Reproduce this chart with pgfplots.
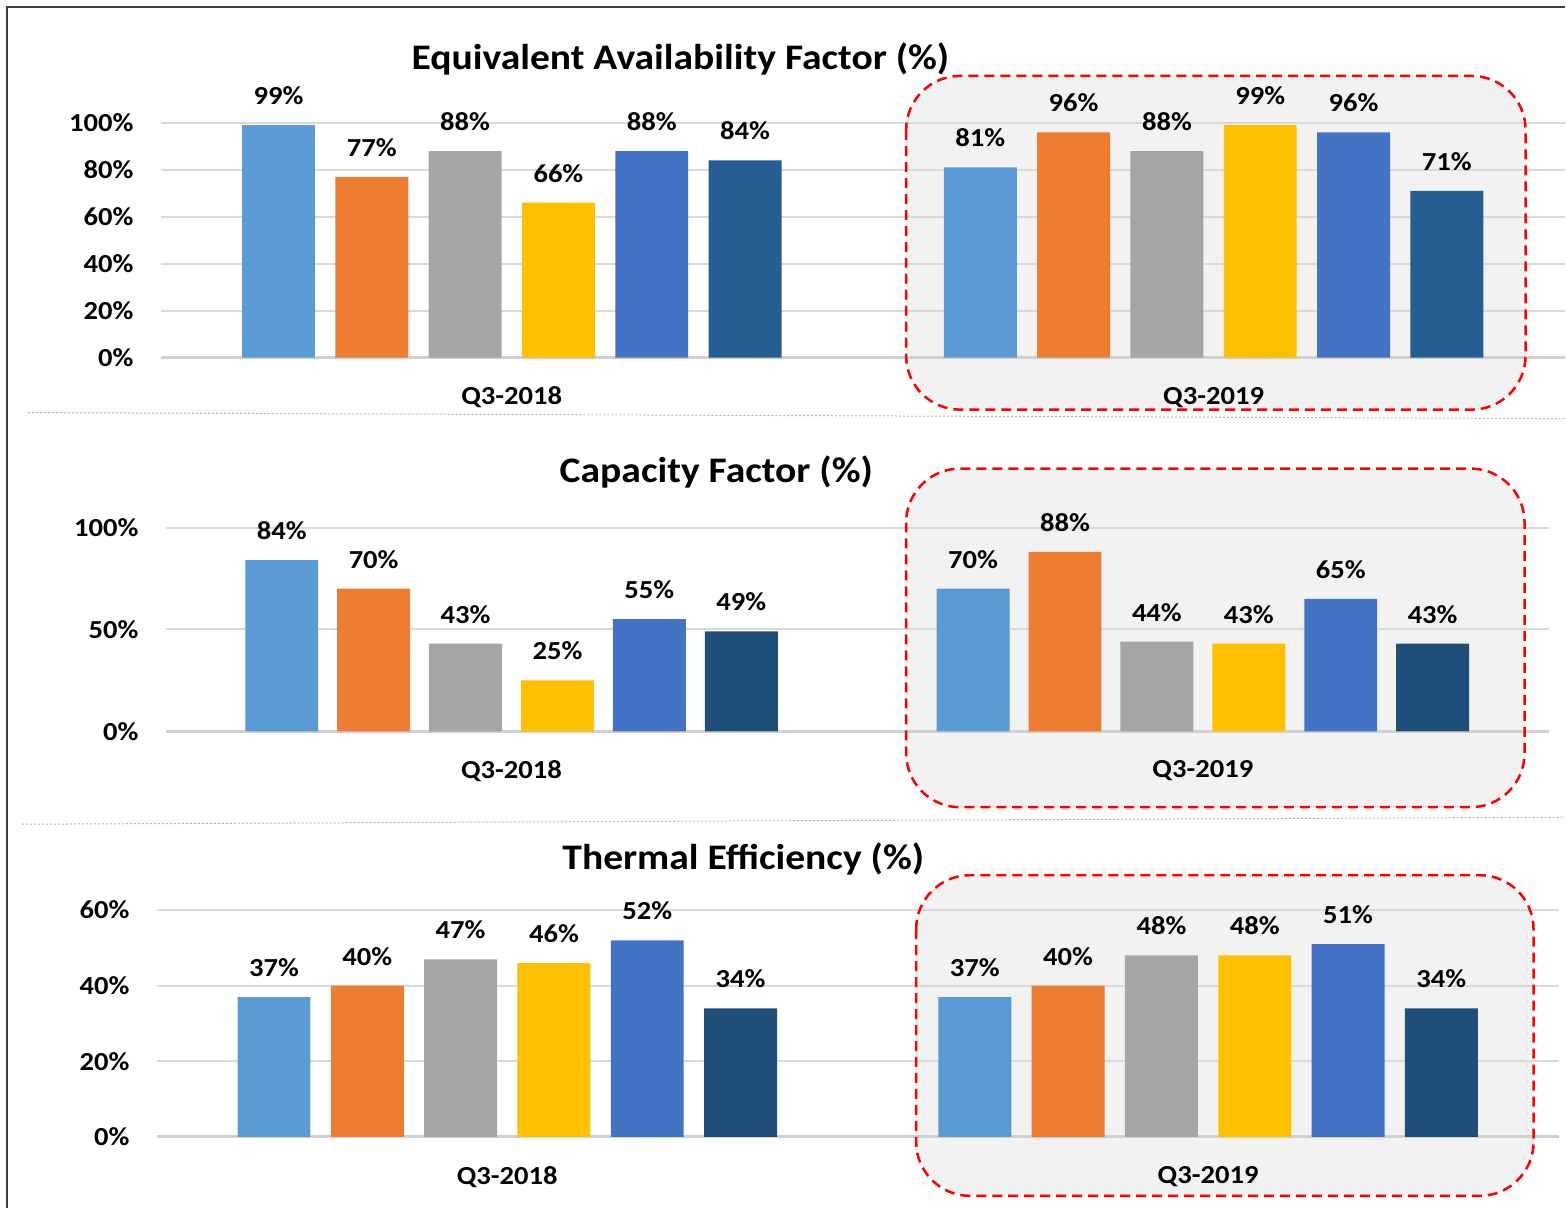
\documentclass[border=0pt]{standalone}
\usepackage{pgfplots}
\pgfplotsset{compat=1.18}
\usepackage{fontspec}
\setmainfont{Carlito}[FakeStretch=1.1]
\definecolor{cA}{HTML}{5B9BD5}
\definecolor{cB}{HTML}{ED7D31}
\definecolor{cC}{HTML}{A5A5A5}
\definecolor{cD}{HTML}{FFC000}
\definecolor{cE}{HTML}{4472C4}
\definecolor{cF}{HTML}{255E91}
\definecolor{cG}{HTML}{1F4E79}
\definecolor{gridc}{HTML}{D9D9D9}
\definecolor{basec}{HTML}{D0D0D0}
\definecolor{boxfill}{HTML}{F2F2F2}
\definecolor{frame}{HTML}{404040}
\newcommand{\lblfont}{\bfseries\fontsize{13}{15}\selectfont}
\newcommand{\ttlfont}{\bfseries\fontsize{18}{21}\selectfont}
\pgfplotsset{
  panel/.style={
    scale only axis, xmin=-0.5, xmax=1.5, ymin=0,
    anchor=south west,
    axis x line*=bottom, axis y line*=left,
    x axis line style={draw=basec, line width=1.5pt},
    y axis line style={draw=none},
    major tick style={draw=none},
    ymajorgrids, grid style={draw=gridc, line width=1pt},
    xtick={0,1}, xticklabels={Q3-2018,Q3-2019},
    xticklabel style={anchor=north, inner sep=0pt, yshift=-14.5pt, font=\lblfont},
    yticklabel style={anchor=east, inner sep=0pt, xshift=-13.5pt, font=\lblfont},
    nodes near coords={\pgfmathprintnumber[assume math mode=true]{\pgfplotspointmeta}\%},
    every node near coord/.append style={anchor=south, inner sep=0pt, yshift=10pt, font=\lblfont, text=black},
    clip=false,
  },
  bb/.style 2 args={ybar, bar width=36.5pt, draw=none, fill=#1, bar shift=#2,
    every node near coord/.append style={xshift=#2}},
}
\begin{document}
\begin{tikzpicture}
\begin{scope}[x=0.5pt,y=-0.5pt]
\useasboundingbox (0,0) rectangle (1566,1209);
% frame
\draw[frame, line width=0.8pt] (7,1209) -- (7,7) -- (1566,7);
% separators
\draw[gray!60, line width=0.5pt, dash pattern=on 1pt off 1pt] (28,413) -- (1566,419);
\draw[gray!60, line width=0.5pt, dash pattern=on 1pt off 1pt] (22,825) -- (1566,818);
% highlight fills
\fill[boxfill, rounded corners=27pt] (907,76) rectangle (1527,410);
\fill[boxfill, rounded corners=27pt] (907,469) rectangle (1526,808);
\fill[boxfill, rounded corners=27pt] (917,876) rectangle (1535,1197);
% titles
\node[anchor=base, font=\ttlfont] at (681,70) {Equivalent Availability Factor (\%)};
\node[anchor=base, font=\ttlfont] at (717,483) {Capacity Factor (\%)};
\node[anchor=base, font=\ttlfont] at (744,870) {Thermal Efficiency (\%)};
\end{scope}

% Panel 1: Equivalent Availability Factor
\begin{axis}[panel, at={(80.5pt,-179pt)}, width=702.5pt, height=117.5pt,
  ymax=100, ytick={0,20,40,60,80,100},
  yticklabels={0\%,20\%,40\%,60\%,80\%,100\%}]
\addplot[bb={cA}{-116.75pt}] coordinates {(0,99) (1,81)};
\addplot[bb={cB}{-70.05pt}] coordinates {(0,77) (1,96)};
\addplot[bb={cC}{-23.35pt}] coordinates {(0,88) (1,88)};
\addplot[bb={cD}{23.35pt}] coordinates {(0,66) (1,99)};
\addplot[bb={cE}{70.05pt}] coordinates {(0,88) (1,96)};
\addplot[bb={cF}{116.75pt}] coordinates {(0,84) (1,71)};
\end{axis}

% Panel 2: Capacity Factor
\begin{axis}[panel, at={(83pt,-366pt)}, width=692pt, height=102pt,
  ymax=100, ytick={0,50,100},
  yticklabels={0\%,50\%,100\%}]
\addplot[bb={cA}{-115pt}] coordinates {(0,84) (1,70)};
\addplot[bb={cB}{-69pt}] coordinates {(0,70) (1,88)};
\addplot[bb={cC}{-23pt}] coordinates {(0,43) (1,44)};
\addplot[bb={cD}{23pt}] coordinates {(0,25) (1,43)};
\addplot[bb={cE}{69pt}] coordinates {(0,55) (1,65)};
\addplot[bb={cG}{115pt}] coordinates {(0,49) (1,43)};
\end{axis}

% Panel 3: Thermal Efficiency
\begin{axis}[panel, at={(78.5pt,-569pt)}, width=701.5pt, height=113.5pt,
  ymax=60, ytick={0,20,40,60},
  yticklabels={0\%,20\%,40\%,60\%}]
\addplot[bb={cA}{-116.75pt}] coordinates {(0,37) (1,37)};
\addplot[bb={cB}{-70.05pt}] coordinates {(0,40) (1,40)};
\addplot[bb={cC}{-23.35pt}] coordinates {(0,47) (1,48)};
\addplot[bb={cD}{23.35pt}] coordinates {(0,46) (1,48)};
\addplot[bb={cE}{70.05pt}] coordinates {(0,52) (1,51)};
\addplot[bb={cG}{116.75pt}] coordinates {(0,34) (1,34)};
\end{axis}

\begin{scope}[x=0.5pt,y=-0.5pt]
\draw[red, line width=1.25pt, dash pattern=on 5pt off 3pt, rounded corners=27pt] (907,76) rectangle (1527,410);
\draw[red, line width=1.25pt, dash pattern=on 5pt off 3pt, rounded corners=27pt] (907,469) rectangle (1526,808);
\draw[red, line width=1.25pt, dash pattern=on 5pt off 3pt, rounded corners=27pt] (917,876) rectangle (1535,1197);
\end{scope}
\end{tikzpicture}
\end{document}
